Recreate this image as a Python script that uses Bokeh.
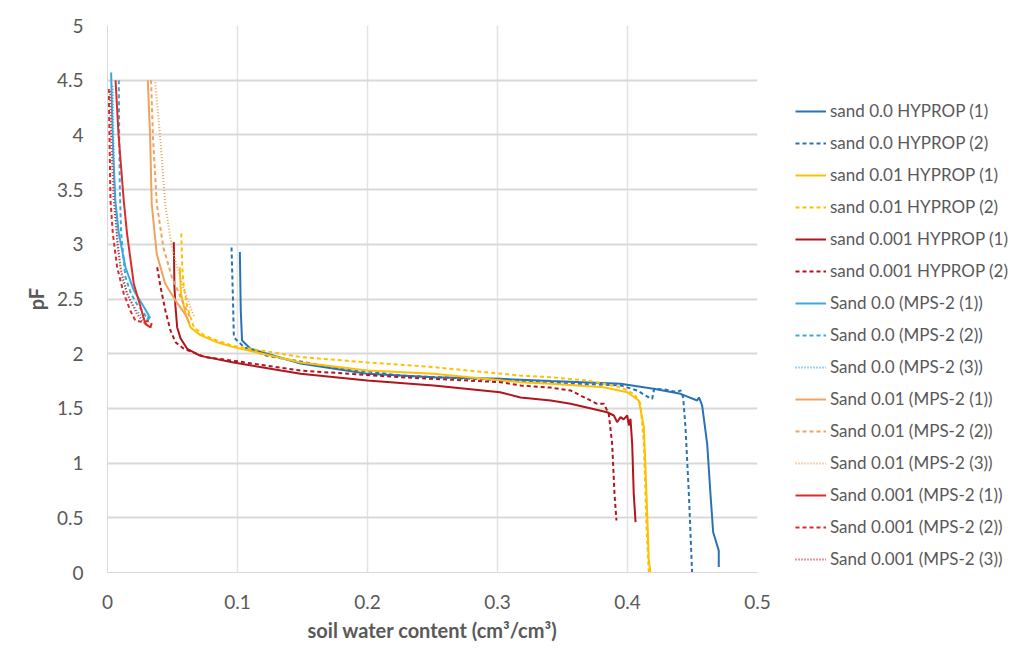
from bokeh.plotting import figure
from bokeh.layouts import row
from bokeh.models import (Range1d, FixedTicker, CustomJSTickFormatter, Legend, LegendItem)
from bokeh.embed import file_html
from bokeh.resources import INLINE

# ---------------- data ----------------
x_ticks = [0, 0.1, 0.2, 0.3, 0.4, 0.5]
y_ticks = [0, 0.5, 1, 1.5, 2, 2.5, 3, 3.5, 4, 4.5, 5]

hyp00_1_x = [0.1018, 0.1025, 0.1035, 0.110, 0.1228, 0.1485, 0.1998, 0.2508, 0.302, 0.341, 0.3946, 0.42, 0.4408, 0.4536, 0.455, 0.4574, 0.4613, 0.4638, 0.4659, 0.469, 0.4702, 0.4702]
hyp00_1_y = [2.93, 2.40, 2.12, 2.045, 2.0, 1.91, 1.816, 1.785, 1.77, 1.75, 1.725, 1.68, 1.633, 1.572, 1.60, 1.527, 1.176, 0.72, 0.368, 0.247, 0.2, 0.05]

hyp00_2_x = [0.0954, 0.0965, 0.0972, 0.1049, 0.1228, 0.174, 0.2254, 0.30, 0.341, 0.3946, 0.4074, 0.4164, 0.419, 0.4205, 0.4277, 0.4382, 0.4408, 0.4428, 0.4446, 0.4472, 0.4497]
hyp00_2_y = [2.97, 2.50, 2.15, 2.06, 1.98, 1.877, 1.80, 1.76, 1.735, 1.71, 1.664, 1.60, 1.588, 1.68, 1.675, 1.648, 1.665, 1.60, 1.328, 0.72, 0.0]

hyp01_1_x = [0.0556, 0.0565, 0.0602, 0.0639, 0.0715, 0.0843, 0.0970, 0.1485, 0.1998, 0.2508, 0.3177, 0.341, 0.3815, 0.3998, 0.4087, 0.4126, 0.4146, 0.4164, 0.4177]
hyp01_1_y = [2.79, 2.55, 2.36, 2.24, 2.17, 2.105, 2.06, 1.92, 1.846, 1.816, 1.74, 1.725, 1.694, 1.648, 1.572, 1.328, 0.72, 0.11, 0.0]

hyp01_2_x = [0.0567, 0.0575, 0.0587, 0.0613, 0.0664, 0.0741, 0.0844, 0.0970, 0.110, 0.1485, 0.1998, 0.2508, 0.3177, 0.341, 0.369, 0.3946, 0.4049, 0.410, 0.4126, 0.4146, 0.4164]
hyp01_2_y = [3.10, 2.79, 2.61, 2.43, 2.24, 2.17, 2.12, 2.07, 2.045, 1.97, 1.92, 1.877, 1.80, 1.785, 1.755, 1.694, 1.633, 1.542, 1.176, 0.414, 0.0]

hyp001_1_x = [0.051, 0.0515, 0.0523, 0.0536, 0.0562, 0.0613, 0.0715, 0.097, 0.1485, 0.1998, 0.2508, 0.302, 0.3177, 0.341, 0.3562, 0.3844, 0.3895, 0.392, 0.3946, 0.397, 0.3998, 0.401, 0.4023, 0.4036, 0.4048, 0.4062]
hyp001_1_y = [3.02, 2.61, 2.43, 2.24, 2.14, 2.045, 1.98, 1.92, 1.816, 1.755, 1.709, 1.648, 1.60, 1.572, 1.542, 1.465, 1.435, 1.374, 1.42, 1.40, 1.435, 1.344, 1.405, 1.176, 0.72, 0.46]

hyp001_2_x = [0.0382, 0.0408, 0.0446, 0.0485, 0.0523, 0.0587, 0.075, 0.100, 0.1485, 0.2254, 0.302, 0.3177, 0.341, 0.3562, 0.3767, 0.3818, 0.3856, 0.3882, 0.390, 0.3915]
hyp001_2_y = [2.79, 2.61, 2.39, 2.21, 2.105, 2.045, 1.97, 1.93, 1.846, 1.785, 1.74, 1.71, 1.69, 1.664, 1.542, 1.542, 1.45, 1.176, 0.72, 0.475]

mps00_1_x = [0.0028, 0.0035, 0.0045, 0.0060, 0.0087, 0.0138, 0.0202, 0.0279, 0.0318, 0.0305, 0.0330]
mps00_1_y = [4.57, 4.20, 3.80, 3.40, 3.10, 2.79, 2.58, 2.43, 2.35, 2.30, 2.34]

mps00_2_x = [0.0087, 0.0090, 0.0095, 0.0105, 0.0125, 0.0138, 0.0180, 0.0228, 0.0275, 0.0300]
mps00_2_y = [4.50, 4.00, 3.50, 3.10, 2.85, 2.70, 2.55, 2.45, 2.38, 2.33]

mps00_3_x = [0.0040, 0.0045, 0.0055, 0.0075, 0.0110, 0.0160, 0.0220, 0.0270]
mps00_3_y = [4.45, 4.00, 3.50, 3.00, 2.70, 2.52, 2.40, 2.33]

mps01_1_x = [0.0310, 0.0328, 0.0340, 0.0379, 0.0444, 0.0521, 0.0598, 0.0630]
mps01_1_y = [4.50, 3.98, 3.37, 2.91, 2.64, 2.49, 2.36, 2.28]

mps01_2_x = [0.0335, 0.0350, 0.0379, 0.0430, 0.0495, 0.0572, 0.0636]
mps01_2_y = [4.50, 3.98, 3.37, 2.97, 2.70, 2.49, 2.33]

mps01_3_x = [0.0367, 0.0405, 0.0444, 0.0495, 0.0572, 0.0649, 0.0670]
mps01_3_y = [4.48, 3.98, 3.37, 2.97, 2.64, 2.39, 2.33]

mps001_1_x = [0.0062, 0.0085, 0.0105, 0.0125, 0.0150, 0.0202, 0.0254, 0.0292, 0.0331, 0.0340]
mps001_1_y = [4.50, 4.00, 3.70, 3.40, 3.10, 2.64, 2.43, 2.27, 2.24, 2.28]

mps001_2_x = [0.0010, 0.0015, 0.0023, 0.0041, 0.0074, 0.0125, 0.0177, 0.0215, 0.0279, 0.0320]
mps001_2_y = [4.42, 4.00, 3.40, 3.10, 2.79, 2.55, 2.39, 2.30, 2.29, 2.30]

mps001_3_x = [0.0020, 0.0030, 0.0048, 0.0080, 0.0100, 0.0150, 0.0228, 0.0292, 0.0310]
mps001_3_y = [4.40, 3.90, 3.40, 3.00, 2.79, 2.55, 2.36, 2.27, 2.30]

labels = [
    "sand 0.0 HYPROP (1)", "sand 0.0 HYPROP (2)",
    "sand 0.01 HYPROP (1)", "sand 0.01 HYPROP (2)",
    "sand 0.001 HYPROP (1)", "sand 0.001 HYPROP (2)",
    "Sand 0.0 (MPS-2 (1))", "Sand 0.0 (MPS-2 (2))", "Sand 0.0 (MPS-2 (3))",
    "Sand 0.01 (MPS-2 (1))", "Sand 0.01 (MPS-2 (2))", "Sand 0.01 (MPS-2 (3))",
    "Sand 0.001 (MPS-2 (1))", "Sand 0.001 (MPS-2 (2))", "Sand 0.001 (MPS-2 (3))",
]
series_x = [hyp00_1_x, hyp00_2_x, hyp01_1_x, hyp01_2_x, hyp001_1_x, hyp001_2_x,
            mps00_1_x, mps00_2_x, mps00_3_x, mps01_1_x, mps01_2_x, mps01_3_x,
            mps001_1_x, mps001_2_x, mps001_3_x]
series_y = [hyp00_1_y, hyp00_2_y, hyp01_1_y, hyp01_2_y, hyp001_1_y, hyp001_2_y,
            mps00_1_y, mps00_2_y, mps00_3_y, mps01_1_y, mps01_2_y, mps01_3_y,
            mps001_1_y, mps001_2_y, mps001_3_y]

# ---------------- styles ----------------
C_BLUE = "#2A72B5"
C_YEL = "#FFC000"
C_DRED = "#B0161E"
C_LBLUE = "#3AA8DC"
C_ORG = "#F0A35E"
C_RED = "#DC2B2B"
colors = [C_BLUE, C_BLUE, C_YEL, C_YEL, C_DRED, C_DRED,
          C_LBLUE, C_LBLUE, C_LBLUE, C_ORG, C_ORG, C_ORG, C_RED, C_RED, C_RED]
SOLID, DASH, DOT = "solid", "4 3", "1 2"
dashes = [SOLID, DASH, SOLID, DASH, SOLID, DASH,
          SOLID, DASH, DOT, SOLID, DASH, DOT, SOLID, DASH, DOT]

FONT = "Lato"
TXT = "#595959"

# main chart: frame from x=107 to 757, y=25 to 572
p = figure(width=790, height=657, output_backend="svg", toolbar_location=None,
           x_range=Range1d(0, 0.5), y_range=Range1d(0, 5),
           min_border_left=107, min_border_right=33, min_border_top=25, min_border_bottom=85)
p.outline_line_color = None
p.background_fill_color = "white"
p.border_fill_color = "white"

# legend panel as a second, axis-free figure
lp = figure(width=223, height=657, output_backend="svg", toolbar_location=None,
            x_range=Range1d(0, 1), y_range=Range1d(0, 1),
            x_axis_type=None, y_axis_type=None,
            min_border_left=0, min_border_right=0, min_border_top=0, min_border_bottom=0)
lp.outline_line_color = None
lp.grid.visible = False
lp.background_fill_color = "white"
lp.border_fill_color = "white"

items = []
for lab, xs, ys, c, d in zip(labels, series_x, series_y, colors, dashes):
    p.line(xs, ys, line_color=c, line_width=2, line_dash=d)
    proxy = lp.line([-10, -9], [-10, -9], line_color=c, line_width=2, line_dash=d)
    items.append(LegendItem(label=lab, renderers=[proxy]))

fmt = CustomJSTickFormatter(code="return String(Math.round(tick*10)/10);")
p.xaxis.ticker = FixedTicker(ticks=x_ticks)
p.yaxis.ticker = FixedTicker(ticks=y_ticks)
p.xaxis.formatter = fmt
p.yaxis.formatter = fmt
for ax in (p.xaxis[0], p.yaxis[0]):
    ax.major_tick_line_color = None
    ax.minor_tick_line_color = None
    ax.axis_line_color = "#D9D9D9"
    ax.axis_line_width = 1
    ax.major_label_text_font = FONT
    ax.major_label_text_font_size = "19px"
    ax.major_label_text_color = TXT
    ax.axis_label_text_font = FONT
    ax.axis_label_text_font_size = "20px"
    ax.axis_label_text_font_style = "bold"
    ax.axis_label_text_color = TXT
p.xaxis.major_label_standoff = 16
p.yaxis.major_label_standoff = 18
p.xaxis.axis_label = "soil water content (cm³/cm³)"
p.yaxis.axis_label = "pF"
p.xaxis.axis_label_standoff = 6
p.yaxis.axis_label_standoff = 6

p.xgrid.grid_line_color = "#E3E3E3"
p.xgrid.grid_line_width = 1.5
p.ygrid.grid_line_color = "#D9D9D9"
p.ygrid.grid_line_width = 2

legend = Legend(items=items, location=(5, 3), padding=0, margin=0,
                spacing=11, glyph_width=31, glyph_height=20, label_height=20,
                label_standoff=4, border_line_color=None, background_fill_alpha=0,
                label_text_font=FONT, label_text_font_size="17px", label_text_color=TXT)
lp.add_layout(legend, "center")

layout = row(p, lp, spacing=0)
open("out.html", "w").write(file_html(layout, INLINE))
